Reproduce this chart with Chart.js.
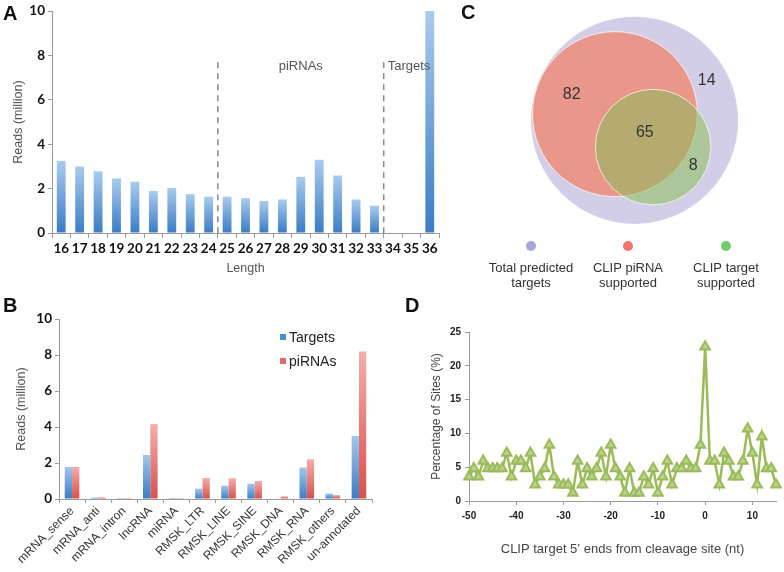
<!DOCTYPE html>
<html>
<head>
<meta charset="utf-8">
<script src="https://cdn.jsdelivr.net/npm/chart.js@4.4.1/dist/chart.umd.min.js"></script>
<style>
  body { margin: 0; background: #fff; }
  #wrap { position: relative; width: 784px; height: 572px; overflow: hidden; }
  canvas { position: absolute; }
  .panel { position: absolute; font: bold 20px "Liberation Sans", Arial, sans-serif; color: #111; line-height: 20px; }
</style>
</head>
<body>
<div id="wrap">
  <canvas id="chartA" width="450" height="290" style="left:0;top:0"></canvas>
  <canvas id="chartB" width="420" height="282" style="left:0;top:290px"></canvas>
  <canvas id="chartC" width="334" height="290" style="left:450px;top:0"></canvas>
  <canvas id="chartD" width="364" height="282" style="left:420px;top:290px"></canvas>
  <div class="panel" style="left:3px;top:3px">A</div>
  <div class="panel" style="left:3px;top:295px">B</div>
  <div class="panel" style="left:461px;top:2px">C</div>
  <div class="panel" style="left:405px;top:295px">D</div>
</div>
<script>
// panel A: read length distribution
const lengths = ['16','17','18','19','20','21','22','23','24','25','26','27','28','29','30','31','32','33','34','35','36'];
const lengthReads = [3.25, 3.0, 2.78, 2.46, 2.31, 1.89, 2.03, 1.75, 1.64, 1.64, 1.57, 1.45, 1.51, 2.53, 3.3, 2.59, 1.51, 1.23, 0, 0, 10];
const regionStarts = ['25', '34'];
const regionNames = ['piRNAs', 'Targets'];

// panel B: annotation of reads
const annotCats = ['mRNA_sense','mRNA_anti','mRNA_intron','lncRNA','miRNA','RMSK_LTR','RMSK_LINE','RMSK_SINE','RMSK_DNA','RMSK_RNA','RMSK_others','un-annotated'];
const targetReads = [1.78, 0.08, 0.01, 2.45, 0.01, 0.57, 0.74, 0.85, 0.03, 1.75, 0.3, 3.5];
const piRNAReads = [1.78, 0.1, 0.01, 4.16, 0.01, 1.17, 1.15, 1.0, 0.15, 2.2, 0.22, 8.2];

// panel C: venn (centres / radii in units of the outer circle)
const vennSets = [['Total predicted', 'targets'], ['CLIP piRNA', 'supported'], ['CLIP target', 'supported']];
const vennX = [0, -0.19, 0.18];
const vennY = [0, 0.06, -0.26];
const vennR = [1, 0.8, 0.56];
const vennCounts = ['82', '65', '14', '8'];
const countX = [-0.61, 0.10, 0.70, 0.57];
const countY = [0.25, -0.12, 0.39, -0.44];

// panel D: 5' ends around cleavage site
const siteOffsets = [-50,-49,-48,-47,-46,-45,-44,-43,-42,-41,-40,-39,-38,-37,-36,-35,-34,-33,-32,-31,-30,-29,-28,-27,-26,-25,-24,-23,-22,-21,-20,-19,-18,-17,-16,-15,-14,-13,-12,-11,-10,-9,-8,-7,-6,-5,-4,-3,-2,-1,0,1,2,3,4,5,6,7,8,9,10,11,12,13,14,15];
const sitePct = [3.6,4.8,3.6,5.9,4.8,4.8,4.8,4.8,7.1,3.6,5.9,5.9,4.8,7.1,2.4,3.6,4.8,8.3,3.6,2.4,2.4,2.4,1.2,5.9,2.4,4.8,3.6,4.8,7.1,3.6,8.3,4.8,3.6,1.2,4.8,1.2,1.2,3.6,2.4,4.8,1.2,3.6,5.9,2.4,4.8,4.8,5.9,4.8,4.8,8.3,22.8,5.9,5.9,2.4,7.1,5.9,3.6,3.6,5.9,10.7,7.1,2.4,9.5,4.8,4.8,2.4];

const SANS = '"Liberation Sans", Arial, sans-serif';
const BOLD = 'Lato, "Liberation Sans", sans-serif';
const AXIS = '#9a9a9a';

function barGradient(c, bottom, top) {
  const chart = c.chart;
  if (!chart.chartArea || !c.parsed) return bottom;
  const y = chart.scales.y;
  const y0 = y.getPixelForValue(0);
  const y1 = y.getPixelForValue(c.parsed.y);
  if (Math.abs(y0 - y1) < 1) return bottom;
  const g = chart.ctx.createLinearGradient(0, y0, 0, y1);
  g.addColorStop(0, bottom);
  g.addColorStop(1, top);
  return g;
}

const base = {
  responsive: false,
  animation: false,
  events: [],
  plugins: { legend: { display: false }, tooltip: { enabled: false } }
};

// ---------- A ----------
const regionPlugin = {
  id: 'regions',
  afterDatasetsDraw(chart) {
    const { ctx, scales: { x, y } } = chart;
    ctx.save();
    ctx.strokeStyle = '#888';
    ctx.lineWidth = 1.5;
    ctx.setLineDash([6, 5]);
    const xs = regionStarts.map(cat => {
      const i = lengths.indexOf(cat);
      return (x.getPixelForValue(i - 1) + x.getPixelForValue(i)) / 2;
    });
    xs.forEach(px => {
      ctx.beginPath();
      ctx.moveTo(px, y.getPixelForValue(7.7));
      ctx.lineTo(px, y.getPixelForValue(0));
      ctx.stroke();
    });
    ctx.setLineDash([]);
    ctx.fillStyle = '#555';
    ctx.font = '13px ' + SANS;
    ctx.textBaseline = 'middle';
    ctx.textAlign = 'center';
    ctx.fillText(regionNames[0], x.getPixelForValue(lengths.indexOf('29')), y.getPixelForValue(7.5));
    ctx.textAlign = 'left';
    ctx.fillText(regionNames[1], xs[1] + 4, y.getPixelForValue(7.5));
    ctx.restore();
  }
};

new Chart(document.getElementById('chartA'), {
  type: 'bar',
  data: {
    labels: lengths,
    datasets: [{
      data: lengthReads,
      backgroundColor: c => barGradient(c, '#3a7cc5', '#a9cbee'),
      barPercentage: 0.48,
      categoryPercentage: 1
    }]
  },
  options: {
    ...base,
    layout: { padding: { left: 0, top: 7, right: 11, bottom: 0 } },
    scales: {
      x: {
        grid: { drawOnChartArea: false, tickLength: 5, color: AXIS },
        border: { color: AXIS },
        ticks: { color: '#111', font: { family: BOLD, size: 13.5, weight: 'bold' }, padding: 3, maxRotation: 0, autoSkip: false },
        title: { display: true, text: 'Length', color: '#555', font: { family: SANS, size: 12.5 }, padding: { top: 14, bottom: 14 } },
        afterFit: s => { s.height = 57; }
      },
      y: {
        min: 0, max: 10,
        grid: { drawOnChartArea: false, tickLength: 4, color: AXIS },
        border: { color: AXIS },
        ticks: { stepSize: 2, color: '#111', font: { family: BOLD, size: 13.5, weight: 'bold' }, padding: 3 },
        title: { display: true, text: 'Reads (million)', color: '#555', font: { family: SANS, size: 12.5 }, padding: { top: 11, bottom: 11 } },
        afterFit: s => { s.width = 52; }
      }
    }
  },
  plugins: [regionPlugin]
});

// ---------- B ----------
const legendB = {
  id: 'legendB',
  afterDraw(chart) {
    const { ctx, chartArea } = chart;
    const marks = ['#4c8ad3', '#e36a67'];
    ctx.save();
    ctx.font = '14px ' + SANS;
    ctx.textBaseline = 'middle';
    chart.data.datasets.forEach((ds, i) => {
      const y = chartArea.top + 19 + i * 24;
      const x = chartArea.right - 92;
      ctx.fillStyle = marks[i];
      ctx.fillRect(x, y - 4, 6, 6);
      ctx.fillStyle = '#222';
      ctx.fillText(ds.label, x + 9, y);
    });
    ctx.restore();
  }
};

new Chart(document.getElementById('chartB'), {
  type: 'bar',
  data: {
    labels: annotCats,
    datasets: [
      { label: 'Targets', data: targetReads, backgroundColor: c => barGradient(c, '#3a7cc5', '#a3c6ec') },
      { label: 'piRNAs', data: piRNAReads, backgroundColor: c => barGradient(c, '#d9504d', '#f4aeab') }
    ]
  },
  options: {
    ...base,
    datasets: { bar: { categoryPercentage: 0.56, barPercentage: 1 } },
    layout: { padding: { left: 0, top: 29, right: 48, bottom: 0 } },
    scales: {
      x: {
        grid: { drawOnChartArea: false, tickLength: 4, color: AXIS },
        border: { color: AXIS },
        ticks: { color: '#333', font: { family: SANS, size: 12 }, padding: 1, minRotation: 45, maxRotation: 45, autoSkip: false },
        afterFit: s => { s.height = 73; }
      },
      y: {
        min: 0, max: 10,
        grid: { drawOnChartArea: false, tickLength: 4, color: AXIS },
        border: { color: AXIS },
        ticks: { stepSize: 2, color: '#111', font: { family: BOLD, size: 13.5, weight: 'bold' }, padding: 3 },
        title: { display: true, text: 'Reads (million)', color: '#555', font: { family: SANS, size: 12.5 }, padding: { top: 14, bottom: 14 } },
        afterFit: s => { s.width = 59; }
      }
    }
  },
  plugins: [legendB]
});

// ---------- C ----------
const vennFill = ['#d3cee7', '#e9968b', 'rgba(140,190,90,0.55)'];
const vennDots = ['#a9a7d9', '#ee7470', '#74cc72'];

const vennText = {
  id: 'vennText',
  afterDatasetsDraw(chart) {
    const { ctx, scales: { x, y } } = chart;
    ctx.save();
    ctx.fillStyle = '#333';
    ctx.font = '16px ' + SANS;
    ctx.textAlign = 'center';
    ctx.textBaseline = 'middle';
    vennCounts.forEach((t, i) => ctx.fillText(t, x.getPixelForValue(countX[i]), y.getPixelForValue(countY[i])));
    // legend under the diagram
    const cols = [81, 178, 276];
    ctx.font = '13px ' + SANS;
    vennSets.forEach((lines, i) => {
      ctx.fillStyle = vennDots[i];
      ctx.beginPath();
      ctx.arc(cols[i], 246, 5, 0, Math.PI * 2);
      ctx.fill();
      ctx.fillStyle = '#333';
      lines.forEach((ln, k) => ctx.fillText(ln, cols[i], 268 + k * 15));
    });
    ctx.restore();
  }
};

const vennChart = new Chart(document.getElementById('chartC'), {
  type: 'bubble',
  data: {
    datasets: vennSets.map((s, i) => ({
      label: s.join(' '),
      data: [{ x: vennX[i], y: vennY[i], r: 1 }],
      backgroundColor: vennFill[i],
      borderColor: i === 0 ? vennFill[0] : 'rgba(255,255,255,0.7)',
      borderWidth: 1,
      order: 3 - i,
      clip: false
    }))
  },
  options: {
    ...base,
    layout: { padding: 0, autoPadding: false },
    scales: {
      x: { type: 'linear', min: -1.79, max: 1.45, display: false },
      y: { type: 'linear', min: -1.648, max: 1.168, display: false }
    }
  },
  plugins: [vennText]
});
// bubble radii are in pixels: convert circle sizes through the x scale
const unitPx = vennChart.scales.x.getPixelForValue(1) - vennChart.scales.x.getPixelForValue(0);
vennChart.data.datasets.forEach((ds, i) => { ds.data[0].r = vennR[i] * unitPx; });
vennChart.update();

// ---------- D ----------
new Chart(document.getElementById('chartD'), {
  type: 'line',
  data: {
    datasets: [{
      data: siteOffsets.map((v, i) => ({ x: v, y: sitePct[i] })),
      borderColor: '#9bbb59',
      borderWidth: 2.5,
      pointStyle: 'triangle',
      pointRadius: 5.5,
      pointBackgroundColor: '#b9d291',
      pointBorderColor: '#9bbb59',
      pointBorderWidth: 2,
      tension: 0,
      clip: false
    }]
  },
  options: {
    ...base,
    layout: { padding: { left: 0, top: 42, right: 8, bottom: 0 } },
    scales: {
      x: {
        type: 'linear', min: -50, max: 15,
        grid: { drawOnChartArea: false, tickLength: 4, color: AXIS },
        border: { color: AXIS },
        ticks: { stepSize: 10, includeBounds: false, color: '#222', font: { family: SANS, size: 10, weight: 'bold' }, padding: 5, maxRotation: 0 },
        title: { display: true, text: 'CLIP target 5’ ends from cleavage site (nt)', color: '#444', font: { family: SANS, size: 13 }, padding: { top: 15, bottom: 15 } },
        afterFit: s => { s.height = 71; }
      },
      y: {
        min: 0, max: 25,
        grid: { drawOnChartArea: false, tickLength: 4, color: AXIS },
        border: { color: AXIS },
        ticks: { stepSize: 5, color: '#222', font: { family: SANS, size: 10, weight: 'bold' }, padding: 4 },
        title: { display: true, text: 'Percentage of Sites (%)', color: '#444', font: { family: SANS, size: 12 }, padding: { top: 9, bottom: 9 } },
        afterFit: s => { s.width = 49; }
      }
    }
  }
});
</script>
</body>
</html>
